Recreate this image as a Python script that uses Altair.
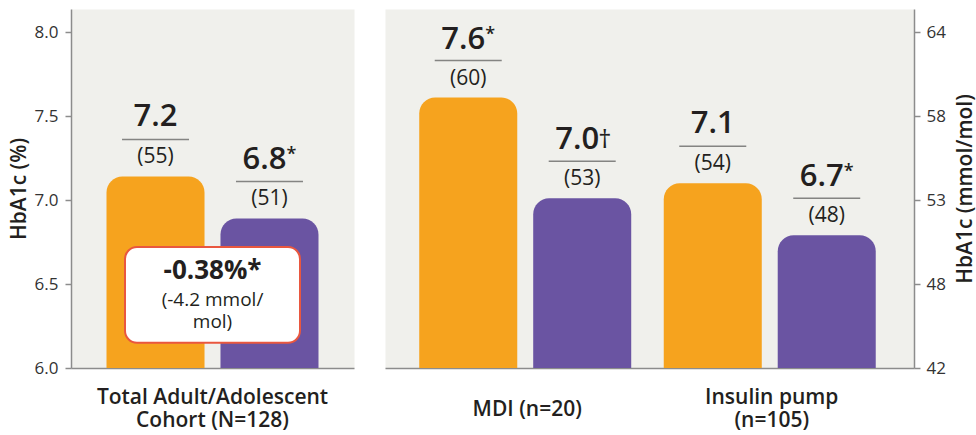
import altair as alt
import pandas as pd

# ---- data ----
cohorts = ["Total Adult/Adolescent|Cohort (N=128)", "MDI (n=20)", "Insulin pump|(n=105)"]
cohort_panel = ["left", "right", "right"]
periods = ["Baseline", "Follow-up"]
period_colors = ["#F6A31E", "#6A54A2"]
bar_heights = [[7.14, 6.89], [7.61, 7.01], [7.10, 6.79]]
value_labels = [["7.2", "6.8"], ["7.6", "7.0"], ["7.1", "6.7"]]
value_marks = [["", "*"], ["*", "\u2020"], ["", "*"]]
mmol_labels = [["(55)", "(51)"], ["(60)", "(53)"], ["(54)", "(48)"]]
pct_ticks = [6.0, 6.5, 7.0, 7.5, 8.0]
mmol_ticks = ["42", "48", "53", "58", "64"]
diff_lines = ["-0.38%*", "(-4.2 mmol/", "mol)"]

rows = []
for i, c in enumerate(cohorts):
    for j, p in enumerate(periods):
        rows.append(dict(cohort=c, panel=cohort_panel[i], period=p,
                         value=bar_heights[i][j], label=value_labels[i][j],
                         marker=value_marks[i][j], mmol=mmol_labels[i][j]))
df = pd.DataFrame(rows)

Y_DOMAIN = [6.0, 8.137]
TEXT = "#231F20"
AXIS_GREY = "#8C8C8C"
FONT = "Open Sans"

# one-line labels drop half a line so that every label block is centred alike
X_LABEL_BASELINE = {"condition": {"test": "indexof(datum.value, '|') < 0",
                                  "value": "line-top"},
                    "value": "middle"}


def panel_chart(sub, order, width, pad_inner, pad_outer, y_axis, extra_layers):
    base = alt.Chart(sub).encode(
        x=alt.X("cohort:N", sort=order,
                scale=alt.Scale(paddingInner=pad_inner, paddingOuter=pad_outer),
                axis=alt.Axis(title=None, labelAngle=0,
                              labelExpr="split(datum.label, '|')",
                              labelLimit=400,
                              ticks=False, tickSize=0, domain=True,
                              domainColor=AXIS_GREY, domainWidth=1.5,
                              labelFont=FONT, labelFontSize=21, labelFontWeight=600,
                              labelColor=TEXT, labelBaseline=X_LABEL_BASELINE,
                              labelLineHeight=23, labelPadding=29)),
        xOffset=alt.XOffset("period:N", sort=periods,
                            scale=alt.Scale(paddingInner=0.14, paddingOuter=0)),
        y=alt.Y("value:Q", scale=alt.Scale(domain=Y_DOMAIN, nice=False, zero=False),
                axis=y_axis),
    )
    bars = base.mark_bar(cornerRadiusTopLeft=16, cornerRadiusTopRight=16).encode(
        y2=alt.datum(Y_DOMAIN[0]),
        color=alt.Color("period:N", scale=alt.Scale(domain=periods, range=period_colors),
                        legend=None)
    )
    rule = base.mark_tick(orient="horizontal", size=67, thickness=1.5,
                          color="#555555", yOffset=-37)
    num_plain = base.transform_filter("datum.marker == ''").mark_text(
        dy=-59, fontSize=31, fontWeight=600, font=FONT, color=TEXT, baseline="middle"
    ).encode(text="label:N")
    num_marked = base.transform_filter("datum.marker != ''").mark_text(
        dy=-58, dx=-5, fontSize=31, fontWeight=600, font=FONT, color=TEXT, baseline="middle"
    ).encode(text="label:N")
    star = base.transform_filter("datum.marker == '*'").mark_text(
        dy=-63, dx=17, align="left", fontSize=18, fontWeight=600, font=FONT, color=TEXT,
        baseline="middle"
    ).encode(text="marker:N")
    dagger = base.transform_filter("datum.marker == '\u2020'").mark_text(
        dy=-58, dx=16, align="left", fontSize=26, fontWeight=400, font=FONT, color=TEXT,
        baseline="middle"
    ).encode(text="marker:N")
    paren = base.mark_text(dy=-19, fontSize=21, fontWeight=400, font=FONT, color=TEXT,
                           baseline="middle").encode(text="mmol:N")
    layers = [bars] + extra_layers + [rule, num_plain, num_marked, star, dagger, paren]
    return alt.layer(*layers).properties(width=width, height=359)


left_axis = alt.Axis(orient="left", values=pct_ticks, format=".1f", title="HbA1c (%)",
                     grid=False, ticks=True, tickSize=6, tickColor=AXIS_GREY, tickWidth=1.5,
                     domainColor=AXIS_GREY, domainWidth=1.5, labelFontSize=17,
                     labelColor="#333333", labelPadding=7, labelFont=FONT,
                     titleFontSize=21, titleFontWeight=600, titleColor=TEXT,
                     titlePadding=5, titleFont=FONT)

mmol_expr = ("[" + ",".join("'" + t + "'" for t in mmol_ticks) + "][indexof(["
             + ",".join(str(v) for v in pct_ticks) + "], datum.value)]")
right_axis = alt.Axis(orient="right", values=pct_ticks, labelExpr=mmol_expr,
                      title="HbA1c (mmol/mol)", titleAngle=270, titleBaseline="top",
                      grid=False, ticks=True, tickSize=6, tickColor=AXIS_GREY, tickWidth=1.5,
                      domainColor=AXIS_GREY, domainWidth=1.5, labelFontSize=17,
                      labelColor="#333333", labelPadding=6, labelFont=FONT,
                      titleFontSize=21, titleFontWeight=600, titleColor=TEXT,
                      titlePadding=9, titleFont=FONT)

# annotation box for the total cohort difference
box_df = pd.DataFrame({"cohort": [cohorts[0]]})
box = alt.Chart(box_df).mark_bar(width=175, cornerRadius=12, fill="white",
                                 stroke="#E9573F", strokeWidth=2).encode(
    x=alt.X("cohort:N"), y=alt.datum(6.72), y2=alt.datum(6.15))
box_main = alt.Chart(box_df).mark_text(dy=-24, fontSize=26, fontWeight=700, font=FONT,
                                       color=TEXT, baseline="middle").encode(
    x=alt.X("cohort:N"), y=alt.datum(6.435), text=alt.value(diff_lines[0]))
box_sub1 = alt.Chart(box_df).mark_text(dy=5, fontSize=19, fontWeight=400, font=FONT,
                                       color=TEXT, baseline="middle").encode(
    x=alt.X("cohort:N"), y=alt.datum(6.435), text=alt.value(diff_lines[1]))
box_sub2 = alt.Chart(box_df).mark_text(dy=27, fontSize=19, fontWeight=400, font=FONT,
                                       color=TEXT, baseline="middle").encode(
    x=alt.X("cohort:N"), y=alt.datum(6.435), text=alt.value(diff_lines[2]))

left = panel_chart(df[df.panel == "left"], cohorts[:1], 283, 0.0, 0.1675, left_axis,
                   [box, box_main, box_sub1, box_sub2])
right = panel_chart(df[df.panel == "right"], cohorts[1:], 529, 0.1166, 0.14, right_axis, [])

chart = alt.hconcat(left, right, spacing=29).properties(
    padding={"left": 7, "right": 0, "top": 8, "bottom": 0}
).configure_view(fill="#F0F0EC", stroke="transparent").configure_axis(
    labelFont=FONT, titleFont=FONT)

chart.save("out.html", embed_options={"renderer": "svg", "actions": False})
